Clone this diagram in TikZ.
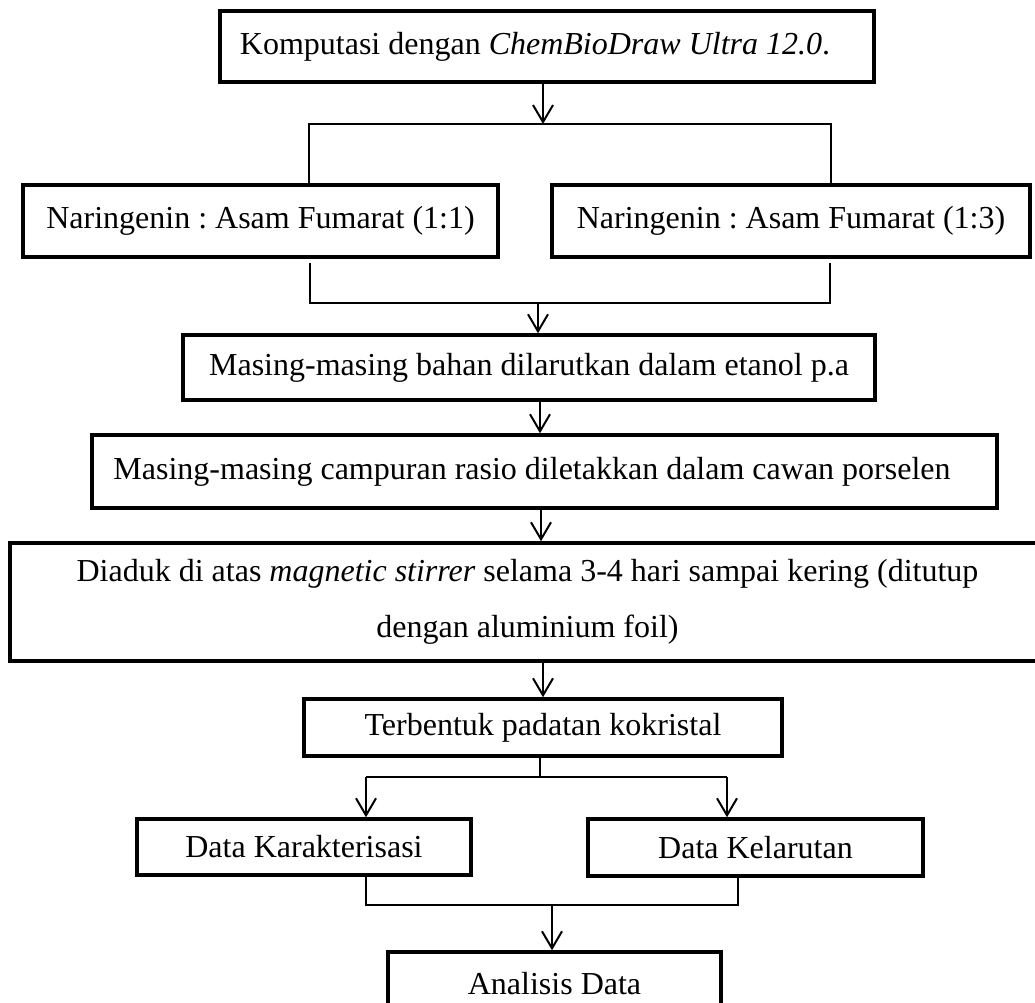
\documentclass[tikz,border=0pt]{standalone}
\usepackage{fontspec}
\setmainfont{Liberation Serif}
\usetikzlibrary{arrows.meta}
\begin{document}
\begin{tikzpicture}[x=1pt,y=-1pt,
  box/.style={draw=black, line width=3.5pt, inner sep=0pt, align=center,
    font=\fontsize{32}{56}\selectfont\frenchspacing},
  conn/.style={draw=black, line width=2pt},
  arr/.style={conn, -{Straight Barb[length=17pt,width=20pt]}}]
\useasboundingbox (0,0) rectangle (1035,1002);
\clip (0,0) rectangle (1035,1002);
% boxes
\node[box, minimum width=654pt, minimum height=71pt] (top) at (547,46.5)
  {Komputasi dengan \textit{ChemBioDraw Ultra 12.0}.\hspace*{24pt}};
\node[box, minimum width=475pt, minimum height=72pt] (n11) at (260.5,221) {Naringenin : Asam Fumarat (1:1)};
\node[box, minimum width=478pt, minimum height=72pt] (n13) at (791,221) {Naringenin : Asam Fumarat (1:3)};
\node[box, minimum width=692pt, minimum height=65pt] (bahan) at (529,367.5) {Masing-masing bahan dilarutkan dalam etanol p.a};
\node[box, minimum width=905pt, minimum height=73pt] (campuran) at (544.5,471.5) {\hspace*{-25pt}Masing-masing campuran rasio diletakkan dalam cawan porselen};
\node[box, minimum width=1035pt, minimum height=118pt] (diaduk) at (527.5,602)
  {Diaduk di atas \textit{magnetic stirrer} selama 3-4 hari sampai kering (ditutup\\ dengan aluminium foil)};
\node[box, minimum width=478pt, minimum height=57pt] (terbentuk) at (543,727.5) {Terbentuk padatan kokristal};
\node[box, minimum width=334pt, minimum height=56pt] (karakter) at (304,847) {Data Karakterisasi};
\node[box, minimum width=335pt, minimum height=57pt] (kelarutan) at (755.5,847.5) {Data Kelarutan};
\node[box, minimum width=333pt, minimum height=68pt, text depth=6pt] (analisis) at (554.5,986) {Analisis Data};
% connector points
\coordinate (j1) at (543,124);
\coordinate (a1) at (309,124);
\coordinate (a2) at (831,124);
\coordinate (b1) at (310,303);
\coordinate (b2) at (830,303);
\coordinate (b3) at (538,303);
\coordinate (c1) at (540,0);
\coordinate (c2) at (541,0);
\coordinate (c3) at (543,0);
\coordinate (d0) at (540,777);
\coordinate (d1) at (366,777);
\coordinate (d2) at (727,777);
\coordinate (e1) at (366,905);
\coordinate (e2) at (738,905);
\coordinate (e3) at (552,905);
% connectors
\draw[arr] (top.south -| j1) -- (j1);
\draw[conn] (n11.north -| a1) -- (a1) -- (a2) -- (n13.north -| a2);
\draw[conn] ([yshift=-4pt]n11.south -| b1) -- (b1) -- (b2) -- ([yshift=-4pt]n13.south -| b2);
\draw[arr] (b3) -- (bahan.north -| b3);
\draw[arr] (bahan.south -| c1) -- (campuran.north -| c1);
\draw[arr] (campuran.south -| c2) -- (diaduk.north -| c2);
\draw[arr] (diaduk.south -| c3) -- (terbentuk.north -| c3);
\draw[conn] (terbentuk.south -| d0) -- (d0);
\draw[conn] (d1) -- (d2);
\draw[arr] (d1) -- (karakter.north -| d1);
\draw[arr] (d2) -- (kelarutan.north -| d2);
\draw[conn] ([yshift=3pt]karakter.south -| e1) -- (e1) -- (e2) -- ([yshift=4pt]kelarutan.south -| e2);
\draw[arr] (e3) -- (analisis.north -| e3);
\end{tikzpicture}
\end{document}
